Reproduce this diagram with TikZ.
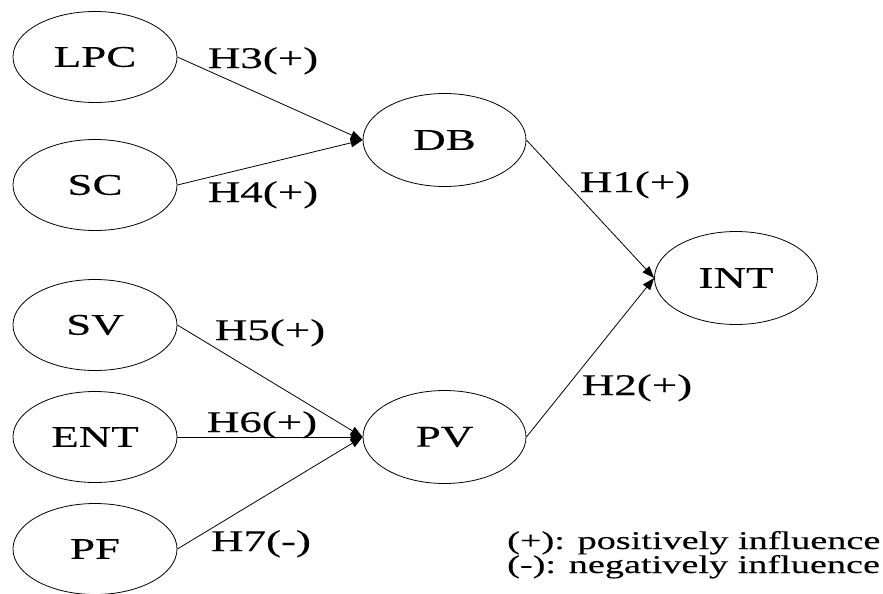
\documentclass[tikz,border=0pt]{standalone}
\usepackage{fontspec}
\setmainfont[FakeStretch=1.5,FakeBold=0.3]{Liberation Serif}
\usetikzlibrary{arrows.meta,shapes.geometric}
\begin{document}
\begin{tikzpicture}[x=1pt,y=-1pt,
  var/.style={draw,ellipse,line width=0.8pt,inner sep=0pt,minimum width=164pt,minimum height=91pt,font=\fontsize{30}{30}\selectfont},
  mid/.style={var,minimum width=163pt,minimum height=93pt},
  lbl/.style={inner sep=0pt,anchor=base,font=\fontsize{30}{30}\selectfont},
  leg/.style={inner sep=0pt,anchor=base west,font=\fontsize{25.5}{25.5}\selectfont},
  arr/.style={line width=0.8pt,-{Triangle[length=12pt,width=9pt]}}]
\useasboundingbox (0,0) rectangle (883,594);
\node[var] (lpc) at (95,57) {LPC};
\node[var] (sc) at (95,185) {SC};
\node[var] (sv) at (95,325) {SV};
\node[var] (ent) at (95,437) {ENT};
\node[var] (pf) at (95,549) {PF};
\node[mid] (db) at (444.5,140) {DB};
\node[mid] (pv) at (444.5,437) {PV};
\node[mid] (int) at (736,278) {INT};
\draw[arr] (lpc.east) -- (db.west);
\draw[arr] (sc.east) -- (db.west);
\draw[arr] (sv.east) -- (pv.west);
\draw[arr] (ent.east) -- (pv.west);
\draw[arr] (pf.east) -- (pv.west);
\draw[arr] (db.east) -- (int.west);
\draw[arr] (pv.east) -- (int.west);
\node[lbl] (h3) at (263,68) {H3(+)};
\node[lbl] (h4) at (263,202) {H4(+)};
\node[lbl] (h1) at (635,192) {H1(+)};
\node[lbl] (h2) at (637,395) {H2(+)};
\node[lbl] (h5) at (270,340) {H5(+)};
\node[lbl] (h6) at (262,432) {H6(+)};
\node[lbl] (h7) at (261,551) {H7(-)};
\node[leg] (l1) at (507,549) {(+): positively influence};
\node[leg] (l2) at (507,573) {(-): negatively influence};
\end{tikzpicture}
\end{document}
